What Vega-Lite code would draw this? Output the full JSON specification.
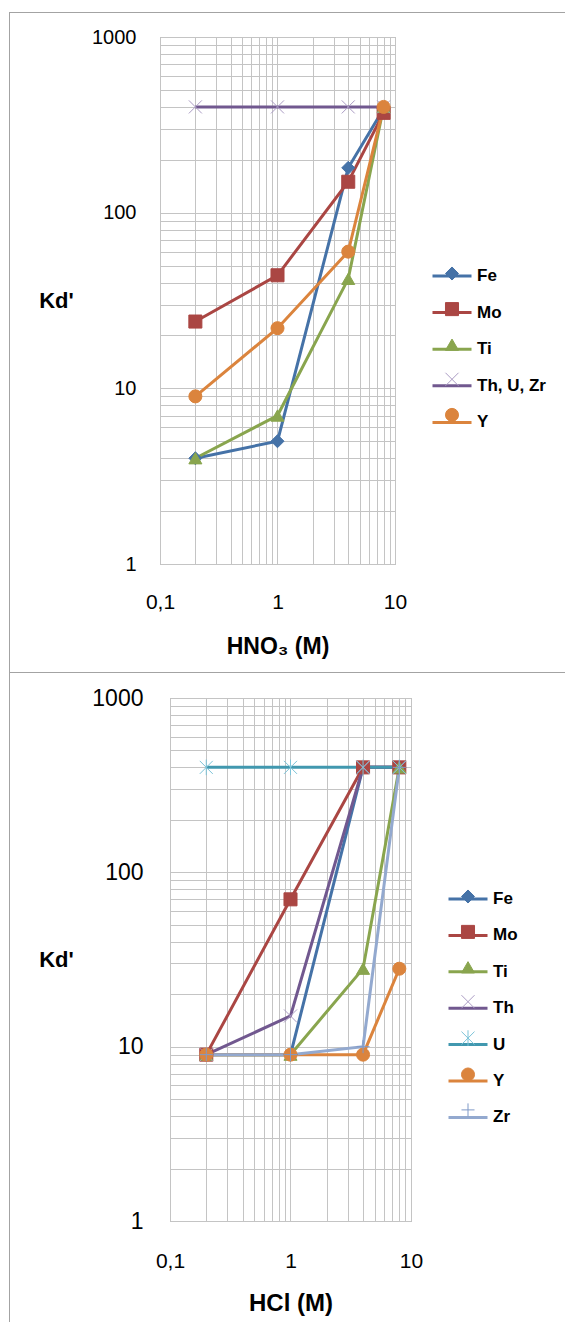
{
  "$schema": "https://vega.github.io/schema/vega-lite/v6.json",
  "padding": {"left": 9, "top": 12, "right": 0, "bottom": 0},
  "spacing": 0,
  "config": {
    "font": "Liberation Sans",
    "view": {"stroke": "#a3a3a3", "strokeWidth": 1},
    "axis": {
      "domain": false,
      "ticks": false,
      "gridColor": "#c4c4c4",
      "gridWidth": 1,
      "gridOpacity": 1,
      "labelFont": "Liberation Sans",
      "labelFontSize": 21,
      "labelColor": "#000000",
      "labelOverlap": false,
      "labelFlush": false,
      "titleFont": "Liberation Sans",
      "titleFontWeight": "bold",
      "titleColor": "#000000"
    },
    "legend": {
      "padding": 0,
      "labelFont": "Liberation Sans",
      "labelFontSize": 17,
      "labelFontWeight": "bold",
      "labelColor": "#000000"
    }
  },
  "datasets": {
    "frame": [{"part": "line"}],
    "hno3": [
      {"series": "Fe", "x": 0.2, "y": 4}, {"series": "Fe", "x": 1, "y": 5}, {"series": "Fe", "x": 4, "y": 180}, {"series": "Fe", "x": 8, "y": 390},
      {"series": "Mo", "x": 0.2, "y": 24}, {"series": "Mo", "x": 1, "y": 44}, {"series": "Mo", "x": 4, "y": 150}, {"series": "Mo", "x": 8, "y": 370},
      {"series": "Ti", "x": 0.2, "y": 4}, {"series": "Ti", "x": 1, "y": 7}, {"series": "Ti", "x": 4, "y": 42}, {"series": "Ti", "x": 8, "y": 400},
      {"series": "Th, U, Zr", "x": 0.2, "y": 400}, {"series": "Th, U, Zr", "x": 1, "y": 400}, {"series": "Th, U, Zr", "x": 4, "y": 400}, {"series": "Th, U, Zr", "x": 8, "y": 400},
      {"series": "Y", "x": 0.2, "y": 9}, {"series": "Y", "x": 1, "y": 22}, {"series": "Y", "x": 4, "y": 60}, {"series": "Y", "x": 8, "y": 400}
    ],
    "hcl": [
      {"series": "Fe", "x": 0.2, "y": 9}, {"series": "Fe", "x": 1, "y": 9}, {"series": "Fe", "x": 4, "y": 400}, {"series": "Fe", "x": 8, "y": 400},
      {"series": "Mo", "x": 0.2, "y": 9}, {"series": "Mo", "x": 1, "y": 70}, {"series": "Mo", "x": 4, "y": 400}, {"series": "Mo", "x": 8, "y": 400},
      {"series": "Ti", "x": 0.2, "y": 9}, {"series": "Ti", "x": 1, "y": 9}, {"series": "Ti", "x": 4, "y": 28}, {"series": "Ti", "x": 8, "y": 400},
      {"series": "Th", "x": 0.2, "y": 9}, {"series": "Th", "x": 1, "y": 15}, {"series": "Th", "x": 4, "y": 400}, {"series": "Th", "x": 8, "y": 400},
      {"series": "U", "x": 0.2, "y": 400}, {"series": "U", "x": 1, "y": 400}, {"series": "U", "x": 4, "y": 400}, {"series": "U", "x": 8, "y": 400},
      {"series": "Y", "x": 0.2, "y": 9}, {"series": "Y", "x": 1, "y": 9}, {"series": "Y", "x": 4, "y": 9}, {"series": "Y", "x": 8, "y": 28},
      {"series": "Zr", "x": 0.2, "y": 9}, {"series": "Zr", "x": 1, "y": 9}, {"series": "Zr", "x": 4, "y": 10}, {"series": "Zr", "x": 8, "y": 400}
    ]
  },
  "hconcat": [
    {
      "width": 1,
      "height": 1310,
      "view": {"fill": "#a3a3a3", "stroke": null},
      "data": {"name": "frame"},
      "mark": {"type": "point", "opacity": 0, "size": 0, "strokeWidth": 0},
      "encoding": {}
    },
    {
      "spacing": 13,
      "resolve": {
        "scale": {"color": "independent", "fill": "independent", "stroke": "independent", "shape": "independent"},
        "legend": {"color": "independent", "fill": "independent", "stroke": "independent", "shape": "independent"}
      },
      "vconcat": [
        {
          "width": 556,
          "height": 1,
          "view": {"fill": "#a3a3a3", "stroke": null},
          "data": {"name": "frame"},
          "mark": {"type": "point", "opacity": 0, "size": 0, "strokeWidth": 0},
          "encoding": {}
        },
        {
          "spacing": 0,
          "hconcat": [
            {
              "width": 1,
              "height": 1,
              "view": {"fill": null, "stroke": null},
              "data": {"name": "frame"},
              "mark": {"type": "point", "opacity": 0, "size": 0, "strokeWidth": 0},
              "encoding": {}
            },
            {
              "width": 235,
              "height": 527,
              "data": {"name": "hno3"},
              "encoding": {
                "x": {
                  "field": "x", "type": "quantitative",
                  "scale": {"type": "log", "domain": [0.1, 10]},
                  "axis": {
                    "values": [0.1, 0.2, 0.3, 0.4, 0.5, 0.6, 0.7, 0.8, 0.9, 1, 2, 3, 4, 5, 6, 7, 8, 9, 10],
                    "labelExpr": "datum.value == 0.1 ? '0,1' : datum.value == 1 ? '1' : datum.value == 10 ? '10' : ''",
                    "labelPadding": 27,
                    "titlePadding": 23,
                    "titleFontSize": 23
                  },
                  "title": "HNO₃ (M)"
                },
                "y": {
                  "field": "y", "type": "quantitative",
                  "scale": {"type": "log", "domain": [1, 1000]},
                  "axis": {
                    "values": [1, 2, 3, 4, 5, 6, 7, 8, 9, 10, 20, 30, 40, 50, 60, 70, 80, 90, 100, 200, 300, 400, 500, 600, 700, 800, 900, 1000],
                    "labelExpr": "datum.value == 1 ? '1' : datum.value == 10 ? '10' : datum.value == 100 ? '100' : datum.value == 1000 ? '1000' : ''",
                    "labelPadding": 24,
                    "labelFontSize": 20,
                    "minExtent": 148,
                    "titleAngle": 0,
                    "titleX": -104,
                    "titleY": 263,
                    "titleAlign": "center",
                    "titleBaseline": "middle",
                    "titleFontSize": 22
                  },
                  "title": "Kd'"
                }
              },
              "layer": [
                {
                  "mark": {"type": "line", "strokeWidth": 3},
                  "encoding": {
                    "color": {
                      "field": "series", "type": "nominal",
                      "sort": ["Fe", "Mo", "Ti", "Th, U, Zr", "Y"],
                      "scale": {"range": ["#4572A7", "#AA4643", "#89A54E", "#71588F", "#DB843D"]},
                      "legend": {"title": null, "orient": "none", "legendX": 421, "legendY": 218, "symbolType": "stroke", "symbolSize": 1521, "symbolStrokeWidth": 3, "rowPadding": 7.6}
                    }
                  }
                },
                {
                  "mark": {"type": "point", "filled": true, "size": 170, "strokeWidth": 1, "opacity": 1},
                  "encoding": {
                    "fill": {
                      "field": "series", "type": "nominal",
                      "scale": {"domain": ["Fe", "Mo", "Ti", "Th, U, Zr", "Y"], "range": ["#4572A7", "#AA4643", "#89A54E", "#71588F", "#DB843D"]},
                      "legend": {"title": null, "orient": "none", "legendX": 433.5, "legendY": 228, "symbolSize": 170, "symbolStrokeWidth": 1, "rowPadding": 16.6, "labelExpr": "' '", "labelOpacity": 0}
                    },
                    "stroke": {
                      "field": "series", "type": "nominal",
                      "scale": {"domain": ["Fe", "Mo", "Ti", "Th, U, Zr", "Y"], "range": ["#4572A7", "#AA4643", "#89A54E", "#ab9cc4", "#DB843D"]},
                      "legend": {"title": null, "orient": "none", "legendX": 433.5, "legendY": 228, "symbolSize": 170, "symbolStrokeWidth": 1, "rowPadding": 16.6, "labelExpr": "' '", "labelOpacity": 0}
                    },
                    "shape": {
                      "field": "series", "type": "nominal",
                      "scale": {"domain": ["Fe", "Mo", "Ti", "Th, U, Zr", "Y"], "range": ["diamond", "square", "triangle-up", "M-1,-1L1,1M-1,1L1,-1", "circle"]},
                      "legend": {"title": null, "orient": "none", "legendX": 433.5, "legendY": 228, "symbolSize": 170, "symbolStrokeWidth": 1, "rowPadding": 16.6, "labelExpr": "' '", "labelOpacity": 0}
                    }
                  }
                }
              ]
            }
          ]
        },
        {
          "width": 556,
          "height": 1,
          "view": {"fill": "#a3a3a3", "stroke": null},
          "data": {"name": "frame"},
          "mark": {"type": "point", "opacity": 0, "size": 0, "strokeWidth": 0},
          "encoding": {}
        },
        {
          "spacing": 0,
          "hconcat": [
            {
              "width": 1,
              "height": 1,
              "view": {"fill": null, "stroke": null},
              "data": {"name": "frame"},
              "mark": {"type": "point", "opacity": 0, "size": 0, "strokeWidth": 0},
              "encoding": {}
            },
            {
              "width": 241,
              "height": 523,
              "data": {"name": "hcl"},
              "encoding": {
                "x": {
                  "field": "x", "type": "quantitative",
                  "scale": {"type": "log", "domain": [0.1, 10]},
                  "axis": {
                    "values": [0.1, 0.2, 0.3, 0.4, 0.5, 0.6, 0.7, 0.8, 0.9, 1, 2, 3, 4, 5, 6, 7, 8, 9, 10],
                    "labelExpr": "datum.value == 0.1 ? '0,1' : datum.value == 1 ? '1' : datum.value == 10 ? '10' : ''",
                    "labelPadding": 29,
                    "titlePadding": 20,
                    "titleFontSize": 24
                  },
                  "title": "HCl (M)"
                },
                "y": {
                  "field": "y", "type": "quantitative",
                  "scale": {"type": "log", "domain": [1, 1000]},
                  "axis": {
                    "values": [1, 2, 3, 4, 5, 6, 7, 8, 9, 10, 20, 30, 40, 50, 60, 70, 80, 90, 100, 200, 300, 400, 500, 600, 700, 800, 900, 1000],
                    "labelExpr": "datum.value == 1 ? '1' : datum.value == 10 ? '10' : datum.value == 100 ? '100' : datum.value == 1000 ? '1000' : ''",
                    "labelPadding": 27,
                    "labelFontSize": 23,
                    "minExtent": 158,
                    "titleAngle": 0,
                    "titleX": -114,
                    "titleY": 261,
                    "titleAlign": "center",
                    "titleBaseline": "middle",
                    "titleFontSize": 22
                  },
                  "title": "Kd'"
                }
              },
              "layer": [
                {
                  "mark": {"type": "line", "strokeWidth": 3},
                  "encoding": {
                    "color": {
                      "field": "series", "type": "nominal",
                      "sort": ["Fe", "Mo", "Ti", "Th", "U", "Y", "Zr"],
                      "scale": {"range": ["#4572A7", "#AA4643", "#89A54E", "#71588F", "#4198AF", "#DB843D", "#93A9CF"]},
                      "legend": {"title": null, "orient": "none", "legendX": 437, "legendY": 180, "symbolType": "stroke", "symbolSize": 1521, "symbolStrokeWidth": 3, "rowPadding": 7.4}
                    }
                  }
                },
                {
                  "mark": {"type": "point", "filled": true, "size": 170, "strokeWidth": 1, "opacity": 1},
                  "encoding": {
                    "fill": {
                      "field": "series", "type": "nominal",
                      "scale": {"domain": ["Fe", "Mo", "Ti", "Th", "U", "Y", "Zr"], "range": ["#4572A7", "#AA4643", "#89A54E", "#71588F", "#4198AF", "#DB843D", "#93A9CF"]},
                      "legend": {"title": null, "orient": "none", "legendX": 449.5, "legendY": 190, "symbolSize": 170, "symbolStrokeWidth": 1, "rowPadding": 16.4, "labelExpr": "' '", "labelOpacity": 0}
                    },
                    "stroke": {
                      "field": "series", "type": "nominal",
                      "scale": {"domain": ["Fe", "Mo", "Ti", "Th", "U", "Y", "Zr"], "range": ["#4572A7", "#AA4643", "#89A54E", "#ab9cc4", "#7cc3d8", "#DB843D", "#7f99c8"]},
                      "legend": {"title": null, "orient": "none", "legendX": 449.5, "legendY": 190, "symbolSize": 170, "symbolStrokeWidth": 1, "rowPadding": 16.4, "labelExpr": "' '", "labelOpacity": 0}
                    },
                    "shape": {
                      "field": "series", "type": "nominal",
                      "scale": {"domain": ["Fe", "Mo", "Ti", "Th", "U", "Y", "Zr"], "range": ["diamond", "square", "triangle-up", "M-1,-1L1,1M-1,1L1,-1", "M-1,-1L1,1M-1,1L1,-1M0,-1.2L0,1.2", "circle", "M0,-1L0,1M-1,0L1,0"]},
                      "legend": {"title": null, "orient": "none", "legendX": 449.5, "legendY": 190, "symbolSize": 170, "symbolStrokeWidth": 1, "rowPadding": 16.4, "labelExpr": "' '", "labelOpacity": 0}
                    }
                  }
                }
              ]
            }
          ]
        }
      ]
    }
  ]
}
